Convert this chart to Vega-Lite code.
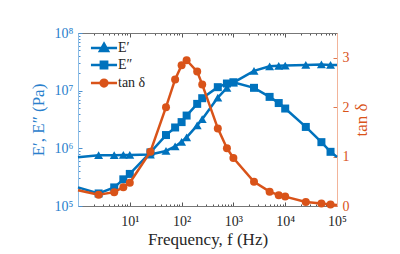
{
  "$schema": "https://vega.github.io/schema/vega-lite/v6.json",
  "width": 259,
  "height": 173,
  "autosize": {"type": "none"},
  "padding": {"left": 78, "top": 33, "right": 63, "bottom": 48},
  "background": "white",
  "config": {
    "view": {"stroke": null},
    "font": "Liberation Serif",
    "axis": {
      "grid": false,
      "labelFont": "Liberation Serif",
      "titleFont": "Liberation Serif",
      "titleFontWeight": "normal",
      "labelFontSize": 14,
      "titleFontSize": 15,
      "labelOverlap": false,
      "labelFlush": false,
      "labelBound": false,
      "tickWidth": 1,
      "domainWidth": 1
    }
  },
  "datasets": {
    "d": [
      {"f": 1, "Ep": 700000, "Epp": 210000, "tan": 0.32},
      {"f": 2.5, "Ep": 760000, "Epp": 165000, "tan": 0.23},
      {"f": 5, "Ep": 760000, "Epp": 210000, "tan": 0.28},
      {"f": 7.5, "Ep": 770000, "Epp": 290000, "tan": 0.38},
      {"f": 10, "Ep": 770000, "Epp": 360000, "tan": 0.47},
      {"f": 25, "Ep": 780000, "Epp": 850000, "tan": 1.1},
      {"f": 50, "Ep": 900000, "Epp": 1700000, "tan": 2.0},
      {"f": 75, "Ep": 1080000, "Epp": 2300000, "tan": 2.56},
      {"f": 100, "Ep": 1300000, "Epp": 2850000, "tan": 2.85},
      {"f": 125, "Ep": 1550000, "Epp": 3700000, "tan": 2.95},
      {"f": 200, "Ep": 2500000, "Epp": 5900000, "tan": 2.72},
      {"f": 250, "Ep": 3200000, "Epp": 7400000, "tan": 2.46},
      {"f": 500, "Ep": 7600000, "Epp": 11500000, "tan": 1.57},
      {"f": 750, "Ep": 11200000, "Epp": 13300000, "tan": 1.17},
      {"f": 1000, "Ep": 13800000, "Epp": 14000000, "tan": 0.97},
      {"f": 2500, "Ep": 22000000, "Epp": 11200000, "tan": 0.49},
      {"f": 5000, "Ep": 26500000, "Epp": 7800000, "tan": 0.29},
      {"f": 7500, "Ep": 27000000, "Epp": 6100000, "tan": 0.22},
      {"f": 10000, "Ep": 27200000, "Epp": 4900000, "tan": 0.19},
      {"f": 25000, "Ep": 28000000, "Epp": 2350000, "tan": 0.08},
      {"f": 50000, "Ep": 28500000, "Epp": 1280000, "tan": 0.05},
      {"f": 75000, "Ep": 28000000, "Epp": 870000, "tan": 0.03},
      {"f": 100000, "Ep": 28000000, "Epp": 710000, "tan": 0.02}
    ]
  },
  "data": {"name": "d"},
  "resolve": {"scale": {"y": "independent"}, "axis": {"x": "independent"}},
  "layer": [
    {
      "encoding": {
        "x": {
          "field": "f",
          "type": "quantitative",
          "scale": {"type": "log", "domain": [1, 100000], "nice": false},
          "title": "Frequency,  f  (Hz)",
          "axis": {
            "orient": "bottom",
            "values": [1,2,3,4,5,6,7,8,9,10,20,30,40,50,60,70,80,90,100,200,300,400,500,600,700,800,900,1000,2000,3000,4000,5000,6000,7000,8000,9000,10000,20000,30000,40000,50000,60000,70000,80000,90000,100000],
            "labelExpr": "datum.value >= 10 && abs(log(datum.value)/LN10 - round(log(datum.value)/LN10)) < 0.001 ? '10' + ['⁰','¹','²','³','⁴','⁵','⁶','⁷','⁸','⁹'][round(log(datum.value)/LN10)] : ''",
            "tickSize": {"condition": {"test": "abs(log(datum.value)/LN10 - round(log(datum.value)/LN10)) < 0.001", "value": -4}, "value": -2},
            "tickColor": "#555555",
            "domainColor": "#777777",
            "labelColor": "#262626",
            "titleColor": "#262626",
            "labelPadding": 12,
            "titlePadding": 1,
            "titleFontSize": 17
          }
        }
      },
      "layer": [
        {
          "mark": {"type": "line", "color": "#0072BD", "strokeWidth": 2.5},
          "encoding": {
            "y": {
              "field": "Ep",
              "type": "quantitative",
              "scale": {"type": "log", "domain": [100000, 100000000], "nice": false},
              "title": "E′,  E″  (Pa)",
              "axis": {
                "orient": "left",
                "values": [100000,200000,300000,400000,500000,600000,700000,800000,900000,1000000,2000000,3000000,4000000,5000000,6000000,7000000,8000000,9000000,10000000,20000000,30000000,40000000,50000000,60000000,70000000,80000000,90000000,100000000],
                "labelExpr": "abs(log(datum.value)/LN10 - round(log(datum.value)/LN10)) < 0.001 ? '10' + ['⁰','¹','²','³','⁴','⁵','⁶','⁷','⁸','⁹'][round(log(datum.value)/LN10)] : ''",
                "tickSize": {"condition": {"test": "abs(log(datum.value)/LN10 - round(log(datum.value)/LN10)) < 0.001", "value": -4}, "value": -2},
                "tickColor": "#4a90d0",
                "domainColor": "#8dbde6",
                "labelColor": "#2a80cc",
                "titleColor": "#2a80cc",
                "labelPadding": 9,
                "titlePadding": 7,
                "titleFontSize": 17
              }
            }
          }
        },
        {
          "transform": [{"filter": "datum.f > 1 && datum.f < 100000"}],
          "mark": {"type": "point", "shape": "triangle-up", "filled": true, "opacity": 1, "size": 80, "color": "#0072BD"},
          "encoding": {
            "y": {"field": "Ep", "type": "quantitative", "scale": {"type": "log", "domain": [100000, 100000000], "nice": false}, "title": "E′,  E″  (Pa)"}
          }
        },
        {
          "mark": {"type": "line", "color": "#0072BD", "strokeWidth": 2.5},
          "encoding": {
            "y": {"field": "Epp", "type": "quantitative", "scale": {"type": "log", "domain": [100000, 100000000], "nice": false}, "title": "E′,  E″  (Pa)"}
          }
        },
        {
          "transform": [{"filter": "datum.f > 1 && datum.f < 100000"}],
          "mark": {"type": "point", "shape": "square", "filled": true, "opacity": 1, "size": 64, "color": "#0072BD"},
          "encoding": {
            "y": {"field": "Epp", "type": "quantitative", "scale": {"type": "log", "domain": [100000, 100000000], "nice": false}, "title": "E′,  E″  (Pa)"}
          }
        }
      ]
    },
    {
      "encoding": {
        "x": {
          "field": "f",
          "type": "quantitative",
          "scale": {"type": "log", "domain": [1, 100000], "nice": false},
          "axis": {
            "orient": "top",
            "title": null,
            "values": [1,2,3,4,5,6,7,8,9,10,20,30,40,50,60,70,80,90,100,200,300,400,500,600,700,800,900,1000,2000,3000,4000,5000,6000,7000,8000,9000,10000,20000,30000,40000,50000,60000,70000,80000,90000,100000],
            "labels": false,
            "tickSize": {"condition": {"test": "abs(log(datum.value)/LN10 - round(log(datum.value)/LN10)) < 0.001", "value": -4}, "value": -2},
            "tickColor": "#555555",
            "domainColor": "#777777"
          }
        },
        "y": {
          "field": "tan",
          "type": "quantitative",
          "scale": {"domain": [0, 3.5], "nice": false, "zero": false},
          "title": "tan δ",
          "axis": {
            "orient": "right",
            "values": [0, 1, 2, 3],
            "tickSize": -4,
            "tickColor": "#e07a50",
            "domainColor": "#f2b49a",
            "labelColor": "#D95319",
            "titleColor": "#D95319",
            "labelPadding": 9,
            "titleAngle": 270,
            "titlePadding": 21,
            "titleFontSize": 17
          }
        }
      },
      "layer": [
        {"mark": {"type": "line", "color": "#D95319", "strokeWidth": 2.5}},
        {
          "transform": [{"filter": "datum.f > 1 && datum.f < 100000"}],
          "mark": {"type": "point", "shape": "circle", "filled": true, "opacity": 1, "size": 64, "color": "#D95319"}
        }
      ]
    },
    {
      "data": {"values": []},
      "mark": {"type": "point", "filled": true, "opacity": 1},
      "encoding": {
        "fill": {
          "field": "series",
          "type": "nominal",
          "scale": {"domain": ["E′", "E″", "tan δ"], "range": ["#0072BD", "#0072BD", "#D95319"]},
          "legend": {
            "orient": "none",
            "legendX": 19,
            "legendY": 8,
            "title": null,
            "symbolSize": 81,
            "symbolStrokeWidth": 2.5,
            "symbolOpacity": 1,
            "labelFont": "Liberation Serif",
            "labelFontSize": 14,
            "labelColor": "#262626",
            "labelOffset": 7,
            "rowPadding": 0
          }
        },
        "stroke": {
          "field": "series",
          "type": "nominal",
          "scale": {"domain": ["E′", "E″", "tan δ"], "range": ["#0072BD", "#0072BD", "#D95319"]}
        },
        "shape": {
          "field": "series",
          "type": "nominal",
          "scale": {
            "domain": ["E′", "E″", "tan δ"],
            "range": [
              "M-2.9,0H2.9M0,-0.95L0.9,0.65L-0.9,0.65Z",
              "M-2.9,0H2.9M-0.7,-0.7H0.7V0.7H-0.7Z",
              "M-2.9,0H2.9M-0.75,0A0.75,0.75,0,1,0,0.75,0A0.75,0.75,0,1,0,-0.75,0Z"
            ]
          }
        }
      }
    }
  ]
}
